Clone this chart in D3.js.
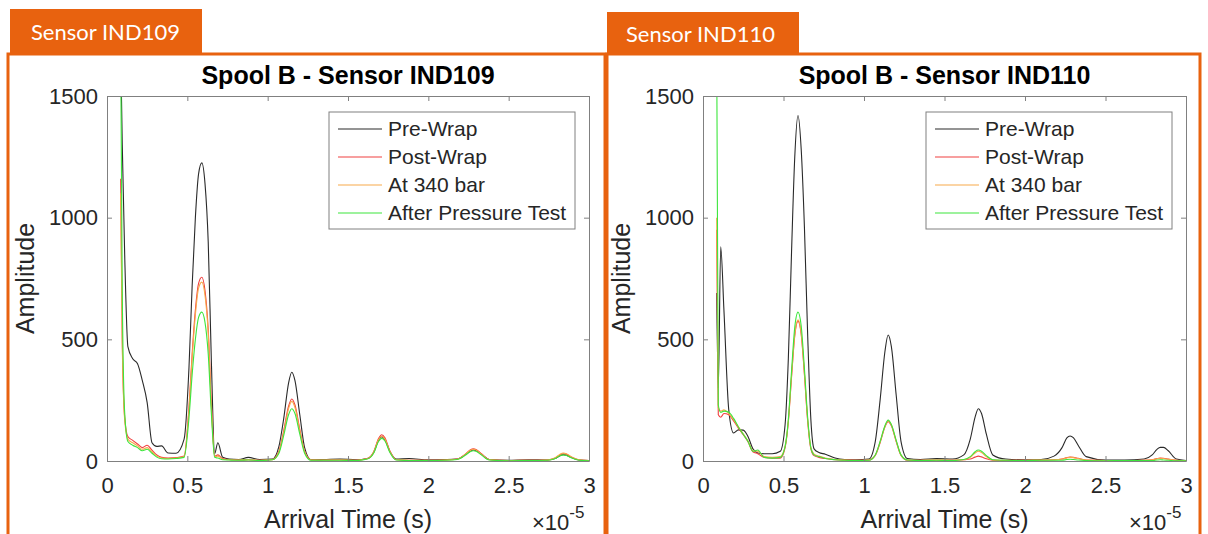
<!DOCTYPE html>
<html>
<head>
<meta charset="utf-8">
<script src="https://cdn.jsdelivr.net/npm/d3@7"></script>
<style>
  body { margin: 0; background: #fff; }
  svg { display: block; }
</style>
</head>
<body>
<svg></svg>
<script>
const w = 1208;
const h = 534;

// arrival time, in units of 1e-5 s
const arrivalTime = [
  0.085, 0.095, 0.11, 0.13, 0.16, 0.19, 0.22, 0.25, 0.28, 0.31, 0.34, 0.38, 0.43, 0.48,
  0.51, 0.53, 0.55, 0.57, 0.59, 0.61, 0.63, 0.65, 0.67, 0.69, 0.72,
  0.76, 0.82, 0.88, 0.95, 1.03,
  1.07, 1.1, 1.13, 1.15, 1.17, 1.2, 1.23, 1.27,
  1.35, 1.45, 1.55, 1.62,
  1.66, 1.69, 1.71, 1.73, 1.76, 1.8, 1.88,
  2.0, 2.1, 2.18,
  2.23, 2.26, 2.28, 2.3, 2.33, 2.38, 2.5,
  2.62, 2.74,
  2.79, 2.82, 2.84, 2.86, 2.89, 2.94, 3.0
];

const ind109PreWrap = [
  1700, 1300, 850, 470, 420, 400, 330, 240, 75, 60, 62, 33, 32, 90,
  380, 720, 1000, 1180, 1225, 1140, 900, 400, 30, 75, 15,
  8, 6, 15, 6, 8,
  60, 175, 320, 365, 330, 190, 55, 5,
  6, 8, 5, 10,
  35, 85, 100, 88, 40, 8, 10,
  5, 6, 8,
  25, 40, 45, 42, 28, 6, 3,
  5, 4,
  10, 22, 26, 24, 14, 4, 2
];
const ind109PostWrap = [
  1160, 500, 180, 100, 85, 70, 55, 65, 45, 25, 15, 12, 14, 20,
  220, 440, 620, 730, 755, 700, 540, 230, 20, 25, 10,
  6, 4, 5, 3, 6,
  40, 125, 225, 255, 230, 130, 40, 5,
  4, 5, 3, 10,
  38, 92, 108, 95, 42, 6, 3,
  3, 4, 8,
  28, 45, 50, 46, 30, 6, 2,
  3, 4,
  12, 26, 30, 28, 16, 4, 2
];
const ind109At340 = [
  1100, 480, 170, 90, 75, 62, 48, 55, 38, 20, 12, 10, 12, 18,
  210, 425, 600, 710, 735, 680, 525, 220, 18, 20, 8,
  5, 4, 5, 3, 5,
  38, 118, 215, 245, 220, 125, 38, 4,
  4, 4, 3, 9,
  36, 88, 102, 90, 40, 5, 3,
  3, 4, 7,
  27, 43, 48, 44, 28, 5, 2,
  3, 4,
  13, 28, 33, 30, 17, 5, 2
];
const ind109AfterTest = [
  1700, 700, 200, 80, 65, 55, 42, 48, 32, 16, 9, 8, 10, 15,
  175, 355, 500, 590, 612, 570, 440, 190, 15, 12, 5,
  4, 3, 4, 2, 5,
  32, 105, 190, 215, 195, 110, 32, 3,
  3, 3, 2, 8,
  33, 80, 93, 82, 36, 4, 2,
  2, 3, 6,
  24, 38, 42, 39, 25, 4, 1,
  2, 3,
  10, 22, 25, 23, 13, 3, 1
];

const ind110PreWrap = [
  690, 300, 880, 620, 210, 115, 128, 127, 100, 50, 33, 30, 30, 40,
  150, 420, 860, 1250, 1420, 1280, 960, 520, 170, 50, 35,
  28, 12, 6, 5, 8,
  80, 250, 450, 518, 470, 270, 80, 10,
  6, 10, 8, 25,
  90, 180, 215, 195, 110, 25, 8,
  5, 6, 20,
  55, 95, 103, 96, 65, 18, 4,
  4, 8,
  25, 48, 56, 56, 42, 8, 2
];
const ind110PostWrap = [
  950, 190, 180, 195, 190, 165, 135, 108, 78, 38, 30, 15, 12, 12,
  55, 160, 345, 515, 575, 520, 355, 165, 50, 22, 15,
  10, 5, 4, 3, 4,
  23, 75, 140, 162, 145, 80, 23, 3,
  3, 4, 3, 5,
  8, 16, 20, 17, 9, 3, 2,
  3, 4, 5,
  8, 14, 16, 15, 11, 4, 2,
  2, 3,
  5, 10, 12, 11, 8, 3, 1
];
const ind110At340 = [
  1000, 220, 205, 210, 195, 170, 140, 112, 82, 42, 40, 18, 15, 18,
  60, 165, 350, 520, 580, 525, 360, 170, 55, 28, 20,
  12, 6, 4, 3, 4,
  24, 78, 142, 165, 148, 82, 24, 4,
  3, 4, 3, 5,
  15, 33, 40, 35, 18, 4, 3,
  3, 4, 5,
  8, 13, 15, 14, 10, 4, 2,
  2, 3,
  5, 9, 11, 10, 7, 3, 1
];
const ind110AfterTest = [
  1700, 230, 200, 205, 200, 175, 140, 110, 80, 40, 45, 15, 12, 15,
  60, 170, 370, 550, 612, 555, 380, 180, 55, 25, 18,
  10, 5, 3, 2, 3,
  25, 80, 145, 168, 150, 85, 25, 4,
  2, 3, 2, 6,
  18, 38, 45, 40, 22, 5, 3,
  2, 3, 3,
  3, 6, 7, 6, 4, 2, 1,
  2, 2,
  2, 4, 5, 4, 3, 1, 1
];

const seriesNames = ['Pre-Wrap', 'Post-Wrap', 'At 340 bar', 'After Pressure Test'];
const seriesColors = ['#2a2a2a', '#f04040', '#f8a94a', '#3de63d'];
const xTicks = [0, 0.5, 1, 1.5, 2, 2.5, 3];
const xTickLabels = ['0', '0.5', '1', '1.5', '2', '2.5', '3'];
const yTicks = [0, 500, 1000, 1500];
const yTickLabels = ['0', '500', '1000', '1500'];

const orange = '#e8620f';
const axisGray = '#808080';
const textColor = '#262626';
const font = "'Liberation Sans', Arial, sans-serif";
const plotTop = 96;
const plotBottom = 461;

const panels = [
  {
    tab: 'Sensor IND109',
    title: 'Spool B - Sensor IND109',
    series: [ind109PreWrap, ind109PostWrap, ind109At340, ind109AfterTest],
    box: [8, 605],
    tabBox: [10, 202, 9],
    tabText: [31, 40],
    plot: [107, 589]
  },
  {
    tab: 'Sensor IND110',
    title: 'Spool B - Sensor IND110',
    series: [ind110PreWrap, ind110PostWrap, ind110At340, ind110AfterTest],
    box: [607, 1200],
    tabBox: [607, 799, 12],
    tabText: [626, 42],
    plot: [703, 1186]
  }
];

const svg = d3.select('svg').attr('width', w).attr('height', h);

svg
  .append('rect')
  .attr('width', w)
  .attr('height', h)
  .attr('fill', '#fff');

panels.forEach((p, i) => {
  const g = svg.append('g');

  // orange frame + tab
  g.append('rect')
    .attr('x', p.box[0])
    .attr('y', 54)
    .attr('width', p.box[1] - p.box[0])
    .attr('height', 500)
    .attr('fill', 'none')
    .attr('stroke', orange)
    .attr('stroke-width', 3);

  g.append('rect')
    .attr('x', p.tabBox[0])
    .attr('y', p.tabBox[2])
    .attr('width', p.tabBox[1] - p.tabBox[0])
    .attr('height', 54 - p.tabBox[2])
    .attr('fill', orange);

  g.append('text')
    .text(p.tab)
    .attr('x', p.tabText[0])
    .attr('y', p.tabText[1])
    .attr('fill', '#fff')
    .style('font-family', "Lato, 'Open Sans', sans-serif")
    .style('font-size', '22px');

  const x = d3.scaleLinear().domain([0, 3]).range([p.plot[0], p.plot[1]]);
  const y = d3.scaleLinear().domain([0, 1500]).range([plotBottom, plotTop]);

  g.append('clipPath')
    .attr('id', 'clip' + i)
    .append('rect')
    .attr('x', p.plot[0])
    .attr('y', plotTop)
    .attr('width', p.plot[1] - p.plot[0])
    .attr('height', plotBottom - plotTop);

  // lines
  const line = d3
    .line()
    .x((d, j) => x(arrivalTime[j]))
    .y(d => y(d))
    .curve(d3.curveMonotoneX);

  g.append('g')
    .attr('clip-path', `url(#clip${i})`)
    .selectAll('path')
    .data(p.series)
    .enter()
    .append('path')
    .attr('d', line)
    .attr('fill', 'none')
    .attr('stroke', (d, k) => seriesColors[k])
    .attr('stroke-width', 1.1);

  // axes (box with inward ticks)
  const bottom = g
    .append('g')
    .attr('transform', `translate(0,${plotBottom})`)
    .call(
      d3.axisBottom(x)
        .tickValues(xTicks)
        .tickSize(-5)
        .tickSizeOuter(0)
        .tickPadding(16)
        .tickFormat((d, k) => xTickLabels[k])
    );
  const left = g
    .append('g')
    .attr('transform', `translate(${p.plot[0]},0)`)
    .call(
      d3.axisLeft(y)
        .tickValues(yTicks)
        .tickSize(-5)
        .tickSizeOuter(0)
        .tickPadding(9)
        .tickFormat((d, k) => yTickLabels[k])
    );
  const top = g
    .append('g')
    .attr('transform', `translate(0,${plotTop})`)
    .call(d3.axisTop(x).tickValues(xTicks).tickSize(-5).tickSizeOuter(0).tickFormat(''));
  const right = g
    .append('g')
    .attr('transform', `translate(${p.plot[1]},0)`)
    .call(d3.axisRight(y).tickValues(yTicks).tickSize(-5).tickSizeOuter(0).tickFormat(''));

  [bottom, left, top, right].forEach(a => {
    a.select('.domain').attr('stroke', axisGray);
    a.selectAll('.tick line').attr('stroke', axisGray);
    a.selectAll('text')
      .attr('fill', textColor)
      .style('font-family', font)
      .style('font-size', '22px');
  });

  // title + labels
  const cx = (p.plot[0] + p.plot[1]) / 2;
  g.append('text')
    .text(p.title)
    .attr('x', cx)
    .attr('y', 84)
    .attr('text-anchor', 'middle')
    .attr('fill', '#000')
    .style('font-family', font)
    .style('font-weight', 'bold')
    .style('font-size', '25px');

  g.append('text')
    .text('Arrival Time (s)')
    .attr('x', cx)
    .attr('y', 528)
    .attr('text-anchor', 'middle')
    .attr('fill', textColor)
    .style('font-family', font)
    .style('font-size', '25px');

  g.append('text')
    .text('Amplitude')
    .attr('transform', `translate(${p.plot[0] - 73},${(plotTop + plotBottom) / 2}) rotate(-90)`)
    .attr('text-anchor', 'middle')
    .attr('fill', textColor)
    .style('font-family', font)
    .style('font-size', '25px');

  const exp = g
    .append('text')
    .attr('x', p.plot[1] - 57)
    .attr('y', 530)
    .attr('fill', textColor)
    .style('font-family', font)
    .style('font-size', '22px');
  exp.append('tspan').text('\u00d710');
  exp.append('tspan').text('-5').attr('dy', -12).style('font-size', '17px');

  // legend
  const lx = p.plot[1] - 260;
  g.append('rect')
    .attr('x', lx)
    .attr('y', 112)
    .attr('width', 246)
    .attr('height', 117)
    .attr('fill', '#fff')
    .attr('stroke', axisGray);

  seriesNames.forEach((name, k) => {
    const ly = 129 + k * 28;
    g.append('line')
      .attr('x1', lx + 9)
      .attr('x2', lx + 53)
      .attr('y1', ly)
      .attr('y2', ly)
      .attr('stroke', seriesColors[k])
      .attr('stroke-width', 1.1);
    g.append('text')
      .text(name)
      .attr('x', lx + 59)
      .attr('y', ly + 7)
      .attr('fill', textColor)
      .style('font-family', font)
      .style('font-size', '21px');
  });
});
</script>
</body>
</html>
